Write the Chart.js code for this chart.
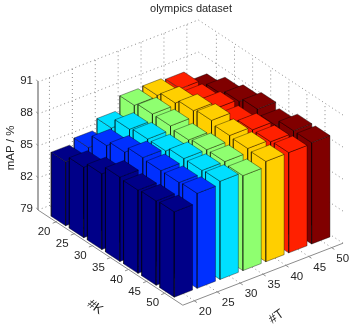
<!DOCTYPE html>
<html>
<head>
<meta charset="utf-8">
<title>olympics dataset</title>
<script src="https://cdn.jsdelivr.net/npm/chart.js@4"></script>
<style>
  html, body { margin: 0; padding: 0; background: #fff; }
  #wrap { width: 356px; height: 328px; }
</style>
</head>
<body>
<div id="wrap"><canvas id="barChart" width="356" height="328"></canvas></div>
<script>
// Tick labels
const kLabels = [20, 25, 30, 35, 40, 45, 50];
const tLabels = [20, 25, 30, 35, 40, 45, 50];
const zTicks = [79, 82, 85, 88, 91];

// mAP values, one list per #K, in #T order
const mapK20 = [85.0, 85.5, 86.5, 87.8, 87.9, 87.7, 86.7];
const mapK25 = [85.6, 86.8, 87.5, 88.1, 88.3, 87.7, 87.5];
const mapK30 = [86.1, 87.3, 87.7, 88.1, 88.7, 88.1, 87.9];
const mapK35 = [86.9, 87.9, 87.7, 87.9, 88.9, 87.9, 88.3];
const mapK40 = [86.8, 87.8, 88.1, 88.1, 88.6, 88.3, 87.9];
const mapK45 = [86.9, 87.8, 88.1, 88.1, 88.5, 88.3, 88.5];
const mapK50 = [87.0, 87.9, 88.2, 87.9, 88.4, 88.4, 88.5];
const mapRows = [mapK20, mapK25, mapK30, mapK35, mapK40, mapK45, mapK50];

// One colour per #T
const barColors = ['#000088', '#0030ff', '#00dfff', '#8fff70', '#ffcf00', '#ff2000', '#800000'];

// Oblique view of the 3D axes, given as chart units per axis step
function project(u, v, w) {
    return {
        x: 38 + u * 18.1 + (v - 0.5) * 22.9,
        y: 210 + u * 11.9 - (v - 0.5) * 8.86 - (w - 79) * 10.67
    };
}

function polyline(points, color, width, dash) {
    return {
        type: 'line',
        data: points,
        borderColor: color,
        borderWidth: width,
        borderDash: dash || [],
        pointRadius: 0,
        tension: 0,
        fill: false,
        clip: false
    };
}

function face(corners, color) {
    const pts = corners.concat([corners[0]]);
    return {
        type: 'line',
        data: pts,
        borderColor: 'rgba(0,0,0,0.55)',
        borderWidth: 0.7,
        backgroundColor: color,
        pointRadius: 0,
        tension: 0,
        fill: 'shape',
        clip: false
    };
}

// Everything is listed back to front, the order is flipped at the end
const layers = [];
const gridStyle = 'rgba(110,110,110,0.8)';
const uMax = 8, vMin = 0.5, vMax = 7.5;

// Back walls and floor grid
zTicks.forEach(z => {
    layers.push(polyline([project(0, vMin, z), project(0, vMax, z), project(uMax, vMax, z)], gridStyle, 1, [1, 3]));
});
tLabels.forEach((t, j) => {
    layers.push(polyline([project(uMax, j + 1, 79), project(0, j + 1, 79), project(0, j + 1, 91)], gridStyle, 1, [1, 3]));
});
kLabels.forEach((k, i) => {
    layers.push(polyline([project(i + 1, vMin, 79), project(i + 1, vMax, 79), project(i + 1, vMax, 91)], gridStyle, 1, [1, 3]));
});

// Axis lines and tick marks
const axisStyle = '#8c8c8c';
layers.push(polyline([project(0, vMin, 79), project(0, vMin, 91)], '#a8a8a8', 2));
layers.push(polyline([project(0, vMin, 79), project(uMax, vMin, 79)], axisStyle, 1));
layers.push(polyline([project(uMax, vMin, 79), project(uMax, vMax, 79)], axisStyle, 1));
zTicks.forEach(z => {
    layers.push(polyline([project(0, vMin, z), project(-0.15, vMin + 0.05, z)], axisStyle, 1));
});
kLabels.forEach((k, i) => {
    layers.push(polyline([project(i + 1, vMin, 79), project(i + 1, vMin - 0.15, 79)], axisStyle, 1));
});
tLabels.forEach((t, j) => {
    layers.push(polyline([project(uMax, j + 1, 79), project(uMax + 0.15, j + 1, 79)], axisStyle, 1));
});

// Bars, far corner first
const halfBar = 0.4;
mapRows.forEach((row, i) => {
    for (let j = tLabels.length - 1; j >= 0; j--) {
        const z = row[j];
        const u0 = i + 1 - halfBar, u1 = i + 1 + halfBar;
        const v0 = j + 1 - halfBar, v1 = j + 1 + halfBar;
        const color = barColors[j];
        layers.push(face([project(u0, v0, 79), project(u1, v0, 79), project(u1, v0, z), project(u0, v0, z)], color));
        layers.push(face([project(u1, v0, 79), project(u1, v1, 79), project(u1, v1, z), project(u1, v0, z)], color));
        layers.push(face([project(u0, v0, z), project(u1, v0, z), project(u1, v1, z), project(u0, v1, z)], color));
    }
});

// Chart.js paints the first dataset last
layers.reverse();

// Tick labels and axis names
const axisText = {
    id: 'axisText',
    afterDraw(chart) {
        const { ctx, scales } = chart;
        const sx = p => scales.x.getPixelForValue(p.x);
        const sy = p => scales.y.getPixelForValue(p.y);
        function put(text, p, dx, dy, angle, align, size) {
            ctx.save();
            ctx.translate(sx(p) + dx, sy(p) + dy);
            ctx.rotate(angle * Math.PI / 180);
            ctx.font = size + 'px "Liberation Sans", Arial, sans-serif';
            ctx.fillStyle = '#262626';
            ctx.textAlign = align;
            ctx.textBaseline = 'middle';
            ctx.fillText(text, 0, 0);
            ctx.restore();
        }
        zTicks.forEach(z => put(String(z), project(0, vMin, z), -5, -1, 0, 'right', 11.5));
        kLabels.forEach((k, i) => put(String(k), project(i + 1, vMin, 79), -12, 10, 0, 'center', 11.5));
        tLabels.forEach((t, j) => put(String(t), project(uMax, j + 1, 79), 11, 11, 0, 'center', 11.5));
        put('mAP / %', project(0, vMin, 85), -27, 2, -90, 'center', 11.5);
        put('#K', project(4.5, vMin, 79), -24.5, 43.5, 35, 'center', 13);
        put('#T', project(uMax, 4.5, 79), 2, 47, -35, 'center', 13);
    }
};

new Chart(document.getElementById('barChart'), {
    data: { datasets: layers },
    plugins: [axisText],
    options: {
        responsive: false,
        animation: false,
        layout: { padding: { left: 26 } },
        scales: {
            x: { type: 'linear', min: 26, max: 356, display: false },
            y: { type: 'linear', min: 18, max: 328, reverse: true, display: false }
        },
        plugins: {
            legend: { display: false },
            tooltip: { enabled: false },
            title: {
                display: true,
                text: 'olympics dataset',
                fullSize: false,
                color: '#262626',
                font: { family: '"Liberation Sans", Arial, sans-serif', size: 11, weight: 'normal', lineHeight: '14px' },
                padding: { top: 2, bottom: 2 }
            }
        }
    }
});
</script>
</body>
</html>
